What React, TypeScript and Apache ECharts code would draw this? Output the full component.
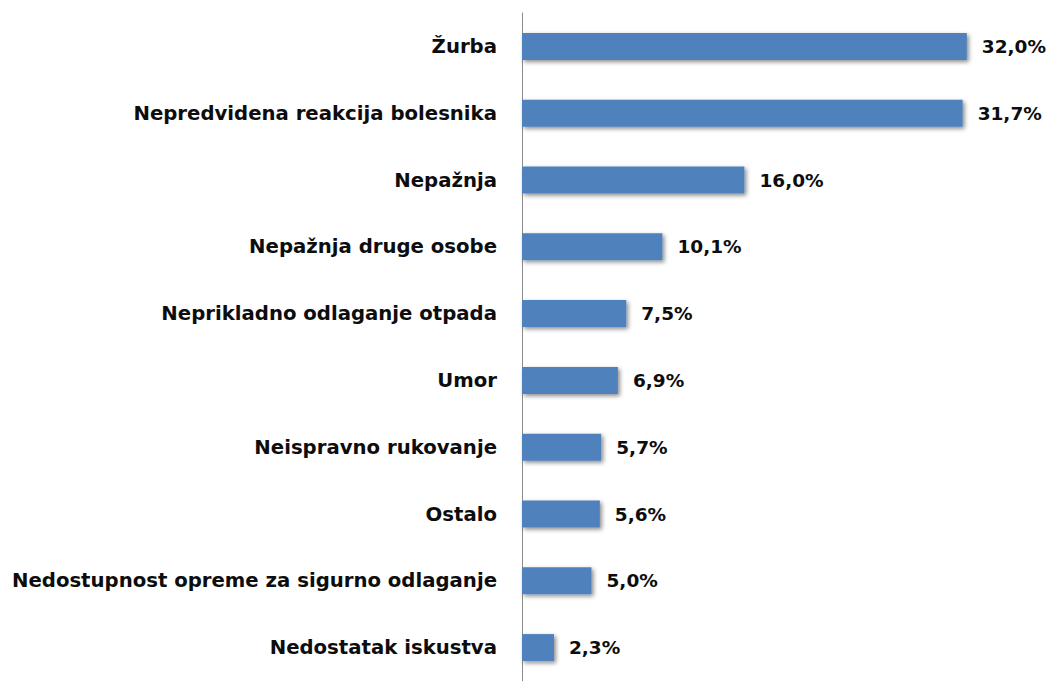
import React, { useEffect, useRef } from "react";
import * as echarts from "echarts";

const categories = [
  "Žurba",
  "Nepredvidena reakcija bolesnika",
  "Nepažnja",
  "Nepažnja druge osobe",
  "Neprikladno odlaganje otpada",
  "Umor",
  "Neispravno rukovanje",
  "Ostalo",
  "Nedostupnost opreme za sigurno odlaganje",
  "Nedostatak iskustva",
];

const values = [32.0, 31.7, 16.0, 10.1, 7.5, 6.9, 5.7, 5.6, 5.0, 2.3];

export default function App() {
  const ref = useRef<HTMLDivElement>(null);

  useEffect(() => {
    if (!ref.current) return;
    const chart = echarts.init(ref.current, null, { renderer: "svg" });
    const font = "DejaVu Sans";
    chart.setOption({
      animation: false,
      backgroundColor: "#ffffff",
      grid: { left: 522, top: 13, width: 528.2, height: 673, containLabel: false },
      xAxis: {
        type: "value",
        min: 0,
        max: 38,
        show: false,
      },
      yAxis: {
        type: "category",
        inverse: true,
        data: categories,
        axisLine: { show: true, lineStyle: { color: "#8c8c8c", width: 1 } },
        axisTick: { show: false },
        splitLine: { show: false },
        axisLabel: {
          margin: 25,
          color: "#0d0d0d",
          fontFamily: font,
          fontWeight: "bold",
          fontSize: 19.7,
        },
      },
      series: [
        {
          type: "bar",
          data: values,
          barWidth: 27,
          itemStyle: {
            color: "#4F81BD",
            shadowColor: "rgba(0,0,0,0.45)",
            shadowBlur: 4,
            shadowOffsetX: 2,
            shadowOffsetY: 2,
          },
          label: {
            show: true,
            position: "right",
            distance: 15,
            color: "#0d0d0d",
            fontFamily: font,
            fontWeight: "bold",
            fontSize: 18.5,
            formatter: (p: any) => p.value.toFixed(1).replace(".", ",") + "%",
          },
        },
      ],
    });
    return () => chart.dispose();
  }, []);

  return (
    <div
      ref={ref}
      style={{ position: "fixed", left: 0, top: 0, width: 1053, height: 681 }}
    />
  );
}
